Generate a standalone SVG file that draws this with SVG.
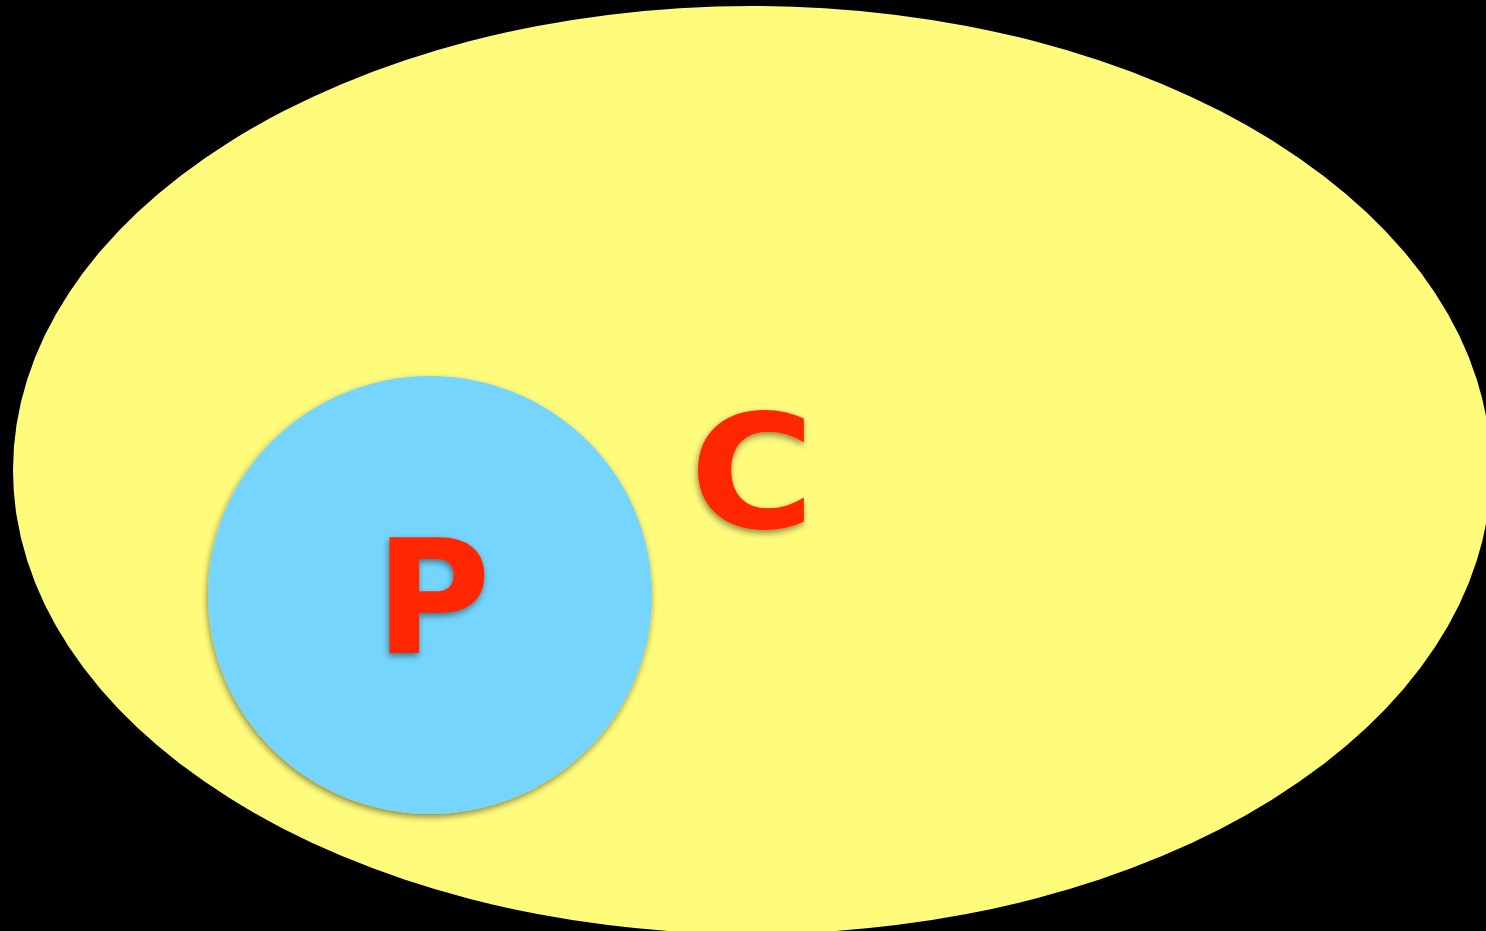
<svg xmlns="http://www.w3.org/2000/svg" width="1486" height="931" viewBox="0 0 1486 931">
  <defs>
    <filter id="shadow" x="-20%" y="-20%" width="140%" height="140%">
      <feGaussianBlur in="SourceAlpha" stdDeviation="3"/>
      <feOffset dx="-1" dy="3" result="b"/>
      <feFlood flood-color="#000" flood-opacity="0.45"/>
      <feComposite in2="b" operator="in"/>
      <feMerge><feMergeNode/><feMergeNode in="SourceGraphic"/></feMerge>
    </filter>
  </defs>
  <style>
    .lbl { font-family: "DejaVu Sans", Verdana, sans-serif; font-weight: bold; font-size: 158px; fill: #ff2600; text-anchor: middle; filter: url(#shadow); }
  </style>
  <rect x="0" y="0" width="1486" height="931" fill="#000"/>
  <g id="C">
    <ellipse cx="752" cy="470" rx="739" ry="464" fill="#fffb7b"/>
    <text class="lbl" x="0" y="0" transform="translate(752 528) scale(1.08 1)">C</text>
  </g>
  <g id="P">
    <ellipse cx="430" cy="595" rx="222" ry="219" fill="#75d5fd" filter="url(#shadow)"/>
    <text class="lbl" x="433" y="653">P</text>
  </g>
  <g id="connectors"/>
</svg>
